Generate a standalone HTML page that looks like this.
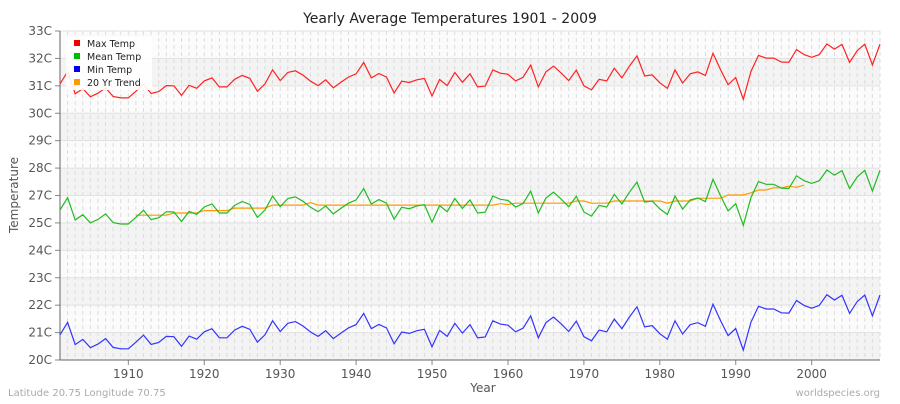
<!DOCTYPE html>
<html><head><meta charset="utf-8"><style>
body{margin:0;background:#fff;font-family:"DejaVu Sans",sans-serif;}
svg text{font-family:"DejaVu Sans",sans-serif;}
</style></head><body>
<svg id="chart" width="900" height="400">
<text x="450" y="23" text-anchor="middle" font-size="14" fill="#222">Yearly Average Temperatures 1901 - 2009</text>
<g id="bands"></g><g id="grid"></g><g id="axes"></g><g id="series"></g>
<text x="483" y="392" text-anchor="middle" font-size="12" fill="#555">Year</text>
<text transform="translate(18,195) rotate(-90)" text-anchor="middle" font-size="12" fill="#555">Temperature</text>
<text x="8" y="396" font-size="10" fill="#aaa">Latitude 20.75 Longitude 70.75</text>
<text x="880" y="396" text-anchor="end" font-size="10" fill="#aaa">worldspecies.org</text>
<g>
<rect x="66" y="37" width="86" height="53" fill="#fff" opacity="0.9"/>
<rect x="74" y="40" width="6" height="6" fill="#e00"/><text x="87" y="47" font-size="9.5" fill="#222">Max Temp</text>
<rect x="74" y="53" width="6" height="6" fill="#0b0"/><text x="87" y="60" font-size="9.5" fill="#222">Mean Temp</text>
<rect x="74" y="66" width="6" height="6" fill="#00e"/><text x="87" y="73" font-size="9.5" fill="#222">Min Temp</text>
<rect x="74" y="79" width="6" height="6" fill="#f90"/><text x="87" y="86" font-size="9.5" fill="#222">20 Yr Trend</text>
</g>
</svg>
<script>
const startYear = 1901;
const meanTemp = [26.47,26.92,26.11,26.30,26.00,26.13,26.33,26.01,25.96,25.96,26.20,26.46,26.12,26.19,26.41,26.40,26.05,26.42,26.31,26.58,26.69,26.36,26.36,26.64,26.78,26.67,26.20,26.47,26.98,26.59,26.89,26.95,26.79,26.57,26.41,26.62,26.33,26.53,26.72,26.84,27.25,26.69,26.85,26.72,26.14,26.57,26.52,26.62,26.67,26.03,26.63,26.41,26.89,26.53,26.84,26.36,26.39,26.98,26.86,26.82,26.58,26.71,27.16,26.36,26.91,27.12,26.87,26.59,26.97,26.40,26.25,26.64,26.58,27.04,26.69,27.12,27.49,26.76,26.80,26.51,26.31,26.98,26.50,26.84,26.91,26.78,27.59,26.98,26.44,26.70,25.91,26.92,27.51,27.41,27.41,27.27,27.26,27.72,27.54,27.44,27.54,27.93,27.74,27.91,27.25,27.68,27.92,27.16,27.92];
const maxTemp = [31.07,31.52,30.71,30.90,30.60,30.73,30.93,30.61,30.56,30.56,30.80,31.06,30.72,30.79,31.01,31.00,30.65,31.02,30.91,31.18,31.29,30.96,30.96,31.24,31.38,31.27,30.80,31.07,31.58,31.19,31.49,31.55,31.39,31.17,31.01,31.22,30.93,31.13,31.32,31.44,31.85,31.29,31.45,31.32,30.74,31.17,31.12,31.22,31.27,30.63,31.23,31.01,31.49,31.13,31.44,30.96,30.99,31.58,31.46,31.42,31.18,31.31,31.76,30.96,31.51,31.72,31.47,31.19,31.57,31.00,30.85,31.24,31.18,31.64,31.29,31.72,32.09,31.36,31.40,31.11,30.91,31.58,31.10,31.44,31.51,31.38,32.19,31.58,31.04,31.30,30.51,31.52,32.11,32.01,32.01,31.87,31.86,32.32,32.14,32.04,32.14,32.53,32.34,32.51,31.85,32.28,32.52,31.76,32.52];
const minTemp = [21.92,22.37,21.56,21.75,21.45,21.58,21.78,21.46,21.41,21.41,21.65,21.91,21.57,21.64,21.86,21.85,21.50,21.87,21.76,22.03,22.14,21.81,21.81,22.09,22.23,22.12,21.65,21.92,22.43,22.04,22.34,22.40,22.24,22.02,21.86,22.07,21.78,21.98,22.17,22.29,22.70,22.14,22.30,22.17,21.59,22.02,21.97,22.07,22.12,21.48,22.08,21.86,22.34,21.98,22.29,21.81,21.84,22.43,22.31,22.27,22.03,22.16,22.61,21.81,22.36,22.57,22.32,22.04,22.42,21.85,21.70,22.09,22.03,22.49,22.14,22.57,22.94,22.21,22.25,21.96,21.76,22.43,21.95,22.29,22.36,22.23,23.04,22.43,21.89,22.15,21.36,22.37,22.96,22.86,22.86,22.72,22.71,23.17,22.99,22.89,22.99,23.38,23.19,23.36,22.70,23.13,23.37,22.61,23.37];
const trendStart = 1911;
const trendTemp = [26.28,26.28,26.28,26.28,26.28,26.36,26.36,26.36,26.36,26.45,26.45,26.45,26.45,26.54,26.54,26.54,26.54,26.54,26.65,26.65,26.65,26.65,26.65,26.74,26.65,26.65,26.65,26.65,26.65,26.65,26.65,26.65,26.65,26.65,26.65,26.65,26.65,26.65,26.65,26.65,26.65,26.65,26.65,26.65,26.65,26.65,26.65,26.65,26.70,26.67,26.72,26.72,26.72,26.72,26.72,26.72,26.72,26.72,26.80,26.80,26.72,26.72,26.72,26.80,26.80,26.80,26.80,26.80,26.80,26.80,26.72,26.80,26.80,26.80,26.90,26.90,26.90,26.90,27.02,27.02,27.02,27.10,27.20,27.20,27.28,27.28,27.34,27.30,27.38];
const yTickValues = [33,32,31,30,29,28,27,26,25,24,23,22,21];
const yTickLabels = ["33C","32C","31C","30C","29C","28C","27C","25C","24C","23C","22C","21C","20C"];
const xTickYears = [1910,1920,1930,1940,1950,1960,1970,1980,1990,2000];

const X0=60,X1=880,Y0=360,Y1=31;
const xS=y=>X0+(y-1901)*(X1-X0)/(2009-1901);
const yS=v=>Y0-(v-21)*(Y0-Y1)/(33-21);
const NS="http://www.w3.org/2000/svg";
function mk(t,a,p){const e=document.createElementNS(NS,t);for(const k in a)e.setAttribute(k,a[k]);p.appendChild(e);return e;}
const bands=document.getElementById('bands'),grid=document.getElementById('grid'),axes=document.getElementById('axes'),ser=document.getElementById('series');
for(let v=21;v<33;v++){
  const r=mk('rect',{x:X0,y:yS(v+1),width:X1-X0,height:yS(v)-yS(v+1),fill:(v%2===0)?'#fbfbfb':'#f3f3f3'},bands);
  
  
}
for(let y=1901;y<=2009;y++){
  const l=mk('line',{x1:xS(y),x2:xS(y),y1:Y1,y2:Y0,stroke:'#dcdcdc','stroke-width':1,'stroke-dasharray':'4,3'},grid);
  
  
}
yTickValues.forEach((v,i)=>{
  mk('line',{x1:X0,x2:X1,y1:yS(v),y2:yS(v),stroke:'#e2e2e2'},grid);
  mk('line',{x1:X0-5,x2:X0,y1:yS(v),y2:yS(v),stroke:'#888'},axes);
  const t=mk('text',{x:X0-8,y:yS(v)+4,'text-anchor':'end','font-size':12,fill:'#555'},axes);
  t.textContent=yTickLabels[i];
  
  
});
xTickYears.forEach(y=>{
  mk('line',{x1:xS(y),x2:xS(y),y1:Y0,y2:Y0+5,stroke:'#888'},axes);
  const t=mk('text',{x:xS(y),y:Y0+18,'text-anchor':'middle','font-size':12,fill:'#555'},axes);
  t.textContent=y;
  
  
});
mk('line',{x1:X0,x2:X0,y1:Y1,y2:Y0,stroke:'#666'},axes);
mk('line',{x1:X0,x2:X1,y1:Y0,y2:Y0,stroke:'#666'},axes);
function line(arr,start,color,name){
  const pts=arr.map((v,i)=>xS(start+i).toFixed(1)+','+yS(v).toFixed(1)).join(' ');
  const p=mk('polyline',{points:pts,fill:'none',stroke:color,'stroke-width':1.2},ser);
  
  
}
line(trendTemp,trendStart,'#f90','trend-line');
line(maxTemp,startYear,'#f22','max-temp-line');
line(meanTemp,startYear,'#2b2','mean-temp-line');
line(minTemp,startYear,'#33f','min-temp-line');
</script>
</body></html>
